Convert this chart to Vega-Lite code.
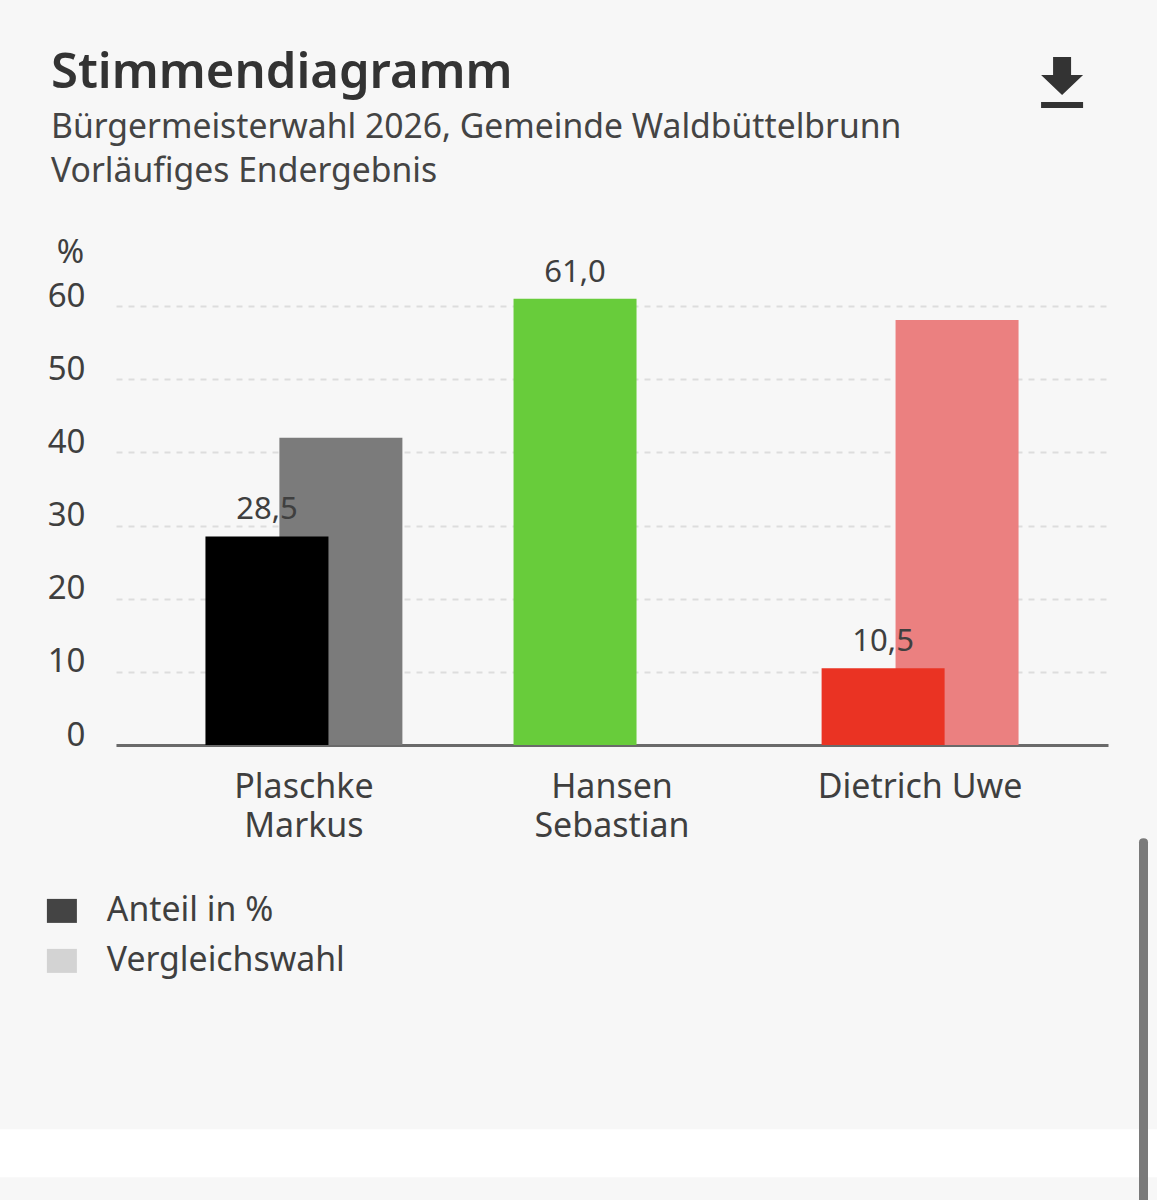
{
  "$schema": "https://vega.github.io/schema/vega-lite/v6.json",
  "width": 992,
  "height": 439,
  "autosize": "none",
  "padding": {"left": 116, "top": 306, "right": 49, "bottom": 455},
  "background": "#f7f7f7",
  "config": {"view": {"stroke": null}},
  "title": {
    "text": "Stimmendiagramm",
    "subtitle": ["Bürgermeisterwahl 2026, Gemeinde Waldbüttelbrunn", "Vorläufiges Endergebnis"],
    "anchor": "start",
    "frame": "group",
    "dx": -65,
    "offset": -132,
    "font": "Noto Sans",
    "fontSize": 49,
    "fontWeight": 600,
    "color": "#333333",
    "subtitleFont": "Noto Sans",
    "subtitleFontSize": 33.7,
    "subtitleColor": "#444444",
    "subtitleLineHeight": 44,
    "subtitlePadding": 13
  },
  "data": {
    "values": [
      {"Kandidat": "Plaschke Markus", "Reihe": "Vergleich", "Farbe": "Plaschke Vergleich", "Wert": 42.0},
      {"Kandidat": "Dietrich Uwe", "Reihe": "Vergleich", "Farbe": "Dietrich Vergleich", "Wert": 58.1},
      {"Kandidat": "Plaschke Markus", "Reihe": "Anteil", "Farbe": "Plaschke Anteil", "Wert": 28.5, "Label": "28,5"},
      {"Kandidat": "Hansen Sebastian", "Reihe": "Anteil", "Farbe": "Hansen Anteil", "Wert": 61.0, "Label": "61,0"},
      {"Kandidat": "Dietrich Uwe", "Reihe": "Anteil", "Farbe": "Dietrich Anteil", "Wert": 10.5, "Label": "10,5"}
    ]
  },
  "encoding": {
    "x": {
      "field": "Kandidat",
      "type": "nominal",
      "sort": ["Plaschke Markus", "Hansen Sebastian", "Dietrich Uwe"],
      "scale": {"paddingInner": 0.52, "paddingOuter": 0.37},
      "axis": {
        "title": null,
        "labelAngle": 0,
        "labelFont": "Noto Sans",
        "labelFontSize": 34,
        "labelColor": "#3f3f3f",
        "labelLineHeight": 39,
        "labelPadding": 25,
        "labelLimit": 400,
        "ticks": false,
        "domainColor": "#6a6a6a",
        "domainWidth": 3,
        "labelExpr": "datum.label == 'Dietrich Uwe' ? datum.label : split(datum.label, ' ')"
      }
    },
    "xOffset": {
      "field": "Reihe",
      "type": "nominal",
      "sort": ["Anteil", "Vergleich"],
      "scale": {"domain": ["Anteil", "Vergleich"], "paddingInner": 0, "paddingOuter": 0}
    }
  },
  "layer": [
    {
      "mark": {"type": "bar", "width": 123, "xOffset": 1},
      "encoding": {
        "y": {
          "field": "Wert",
          "type": "quantitative",
          "scale": {"domain": [0, 60], "nice": false},
          "axis": {
            "title": "%",
            "titleAngle": 0,
            "titleX": -46,
            "titleY": -37,
            "titleAlign": "center",
            "titleFont": "Noto Sans",
            "titleFontSize": 33,
            "titleFontWeight": 400,
            "titleColor": "#3f3f3f",
            "values": [0, 10, 20, 30, 40, 50, 60],
            "labelFont": "Noto Sans",
            "labelFontSize": 33,
            "labelColor": "#3f3f3f",
            "labelOffset": -10,
            "labelPadding": 31,
            "ticks": false,
            "domain": false,
            "grid": true,
            "gridColor": "#dddddd",
            "gridWidth": 2,
            "gridDash": [6, 6]
          }
        },
        "color": {
          "field": "Farbe",
          "type": "nominal",
          "scale": {
            "domain": ["Anteil in %", "Vergleichswahl", "Plaschke Anteil", "Plaschke Vergleich", "Hansen Anteil", "Dietrich Anteil", "Dietrich Vergleich"],
            "range": ["#444444", "#d3d3d3", "#000000", "#7b7b7b", "#68cc3b", "#ea3323", "#eb8080"]
          },
          "legend": {
            "values": ["Anteil in %", "Vergleichswahl"],
            "title": null,
            "orient": "none",
            "legendX": -71,
            "legendY": 588,
            "symbolType": "M-1,-0.8H1V0.8H-1Z",
            "symbolSize": 900,
            "symbolStrokeWidth": 0,
            "labelFont": "Noto Sans",
            "labelFontSize": 33.8,
            "labelColor": "#3f3f3f",
            "labelOffset": 28,
            "labelLimit": 400,
            "rowPadding": 15,
            "symbolOpacity": 1
          }
        }
      }
    },
    {
      "transform": [{"filter": "isValid(datum.Label)"}],
      "mark": {"type": "text", "baseline": "bottom", "dy": -10, "font": "Noto Sans", "fontSize": 31, "color": "#3f3f3f"},
      "encoding": {
        "y": {"field": "Wert", "type": "quantitative"},
        "text": {"field": "Label", "type": "nominal"}
      }
    },
    {
      "data": {"values": [{"Element": "Download", "Kandidat": "Dietrich Uwe", "Wert": 90.6}]},
      "mark": {
        "type": "point",
        "filled": true,
        "opacity": 1,
        "size": 4,
        "xOffset": 142,
        "color": "#333333",
        "shape": "M-9,-25H9V-7H21L0,13L-21,-7H-9ZM-21,20H21V26H-21Z"
      },
      "encoding": {
        "xOffset": null,
        "y": {"field": "Wert", "type": "quantitative"}
      }
    },
    {
      "data": {"values": [{"Element": "Fusszeile", "Kandidat": "Hansen Sebastian", "Wert": -55.8}]},
      "mark": {
        "type": "point",
        "filled": true,
        "opacity": 1,
        "size": 4,
        "color": "#ffffff",
        "shape": "M-612,-24H545V24H-612Z"
      },
      "encoding": {
        "xOffset": null,
        "y": {"field": "Wert", "type": "quantitative"}
      }
    },
    {
      "data": {"values": [{"Element": "Scrollbalken", "Kandidat": "Hansen Sebastian", "Wert": -55.8}]},
      "mark": {
        "type": "point",
        "filled": true,
        "opacity": 1,
        "size": 4,
        "color": "#7a7a7a",
        "shape": "M527,47V-311Q527,-315 531.5,-315Q536,-315 536,-311V47Z"
      },
      "encoding": {
        "xOffset": null,
        "y": {"field": "Wert", "type": "quantitative"}
      }
    }
  ]
}
